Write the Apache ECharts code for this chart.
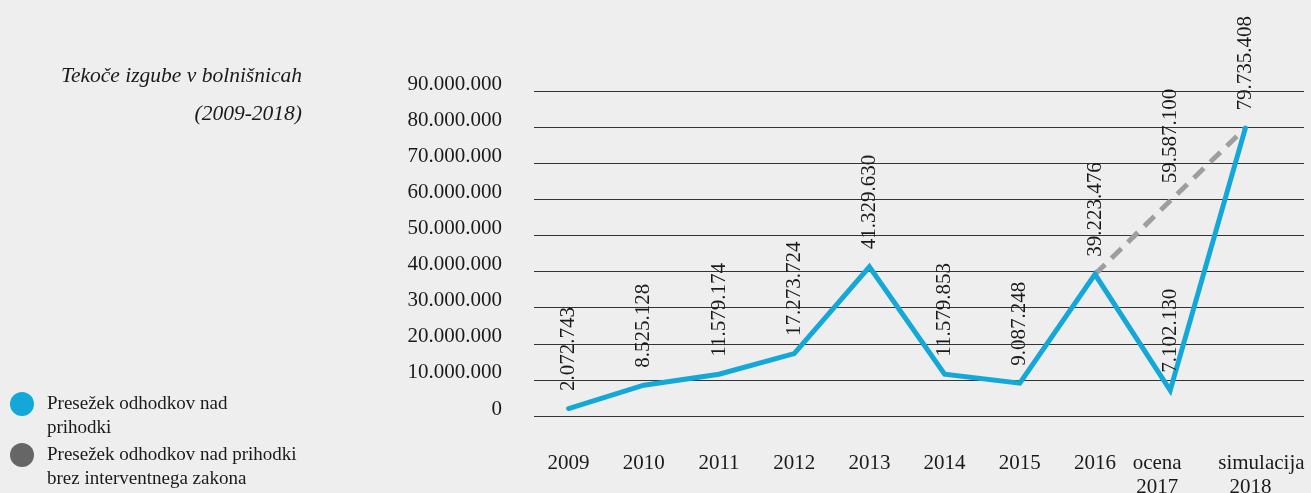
<!DOCTYPE html>
<html>
<head>
<meta charset="utf-8">
<script src="https://cdn.jsdelivr.net/npm/echarts@6/dist/echarts.min.js"></script>
<style>
  html, body { margin: 0; padding: 0; background: #eeeeee; }
  #chart { width: 1311px; height: 493px; }
</style>
</head>
<body>
<div id="chart"></div>
<script>
var categories = ['2009', '2010', '2011', '2012', '2013', '2014', '2015', '2016', 'ocena\n2017', 'simulacija\n2018']
var izgube = [2072743, 8525128, 11579174, 17273724, 41329630, 11579853, 9087248, 39223476, 7102130, 79735408]
var brezZakona = [null, null, null, null, null, null, null, 39223476, 59587100, 79735408]
var yTicks = { min: 0, max: 90000000, interval: 10000000 }

var nameA = 'Presežek odhodkov nad prihodki'
var nameB = 'Presežek odhodkov nad prihodki brez interventnega zakona'
var serif = '"Liberation Serif", "DejaVu Serif", serif'

function fmt(v) {
  return String(v).replace(/\B(?=(\d{3})+(?!\d))/g, '.')
}

var chart = echarts.init(document.getElementById('chart'))

var labelBase = {
  show: true,
  position: 'top',
  rotate: 90,
  align: 'left',
  verticalAlign: 'middle',
  distance: 17,
  fontFamily: serif,
  fontSize: 21,
  color: '#1a1a1a'
}

var titleStyle = {
  fontFamily: serif,
  fontStyle: 'italic',
  fontWeight: 'normal',
  fontSize: 21.5,
  color: '#1a1a1a'
}

var xText = { fontFamily: serif, fontSize: 21, lineHeight: 24, color: '#1a1a1a' }

function legendFor(name, color, top, text) {
  return {
    data: [{ name: name, itemStyle: { color: color } }],
    left: 10,
    top: top,
    padding: 0,
    icon: 'circle',
    itemWidth: 24,
    itemHeight: 24,
    selectedMode: false,
    formatter: function() { return text },
    textStyle: { fontFamily: serif, fontSize: 19, lineHeight: 24, color: '#1a1a1a', padding: [0, 0, 0, 8] }
  }
}

chart.setOption({
  backgroundColor: '#eeeeee',
  animation: false,
  title: [
    { text: 'Tekoče izgube v bolnišnicah', right: 1009, top: 65, padding: 0, textStyle: titleStyle },
    { text: '(2009-2018)', right: 1009, top: 103, padding: 0, textStyle: titleStyle }
  ],
  legend: [
    legendFor(nameA, '#13a8d7', 368, '\nPresežek odhodkov nad\nprihodki'),
    legendFor(nameB, '#666666', 419, '\nPresežek odhodkov nad prihodki\nbrez interventnega zakona')
  ],
  grid: [
    { left: 531, right: 28, top: 91, bottom: 77, outerBoundsMode: 'none' },
    { left: 534, right: 7, top: 91, bottom: 77, outerBoundsMode: 'none' }
  ],
  xAxis: [
    {
      gridIndex: 0,
      type: 'category',
      data: categories,
      axisLine: { show: false },
      axisTick: { show: false },
      axisLabel: Object.assign({
        interval: 0,
        margin: 35,
        // zadnji dve oznaki nista točno na sredini
        formatter: function(v, i) {
          var p = v.split('\n')
          if (i === 8) return '{a|' + p[0] + '}\n{a|' + p[1] + '}'
          if (i === 9) return '{b|' + p[0] + '}\n{c|' + p[1] + '}'
          return v
        },
        rich: {
          a: Object.assign({ padding: [0, 26, 0, 0] }, xText),
          b: Object.assign({ padding: [0, 0, 0, 32] }, xText),
          c: Object.assign({ padding: [0, 0, 0, 10] }, xText)
        }
      }, xText)
    },
    { gridIndex: 1, type: 'value', min: 0, max: 1, show: false }
  ],
  yAxis: [
    {
      gridIndex: 0,
      type: 'value',
      min: yTicks.min,
      max: yTicks.max,
      interval: yTicks.interval,
      show: false
    },
    {
      gridIndex: 1,
      type: 'value',
      min: yTicks.min,
      max: yTicks.max,
      interval: yTicks.interval,
      axisLine: { show: false },
      axisTick: { show: false },
      splitLine: { show: true, lineStyle: { color: '#333333', width: 1 } },
      axisLabel: {
        margin: 32,
        verticalAlign: 'bottom',
        lineHeight: 14,
        fontFamily: serif,
        fontSize: 21,
        color: '#1a1a1a',
        formatter: function(v) { return fmt(v) }
      }
    }
  ],
  series: [
    {
      name: nameB,
      type: 'line',
      xAxisIndex: 0,
      yAxisIndex: 0,
      data: brezZakona,
      symbol: 'circle',
      symbolSize: 1,
      showSymbol: true,
      color: '#9e9e9e',
      itemStyle: { color: '#9e9e9e' },
      lineStyle: { width: 5, type: [14, 9], color: '#9e9e9e' },
      label: Object.assign({}, labelBase, {
        formatter: function(p) { return p.dataIndex === 8 ? fmt(p.value) : '' }
      }),
      labelLayout: { hideOverlap: false },
      z: 2
    },
    {
      name: nameA,
      type: 'line',
      xAxisIndex: 0,
      yAxisIndex: 0,
      data: izgube,
      symbol: 'circle',
      symbolSize: 1,
      showSymbol: true,
      color: '#13a8d7',
      itemStyle: { color: '#13a8d7' },
      lineStyle: { width: 5, color: '#13a8d7', cap: 'round', join: 'miter' },
      label: Object.assign({}, labelBase, {
        formatter: function(p) { return fmt(p.value) }
      }),
      labelLayout: { hideOverlap: false },
      z: 3
    }
  ]
})
</script>
</body>
</html>
